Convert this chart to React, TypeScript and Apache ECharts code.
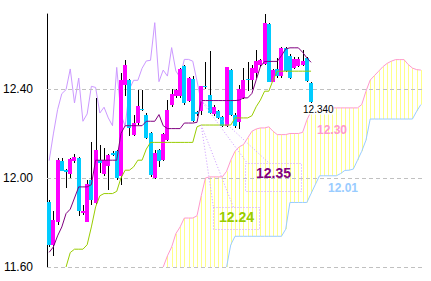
import React, { useEffect, useRef } from "react";
import * as echarts from "echarts";

// ---------- data ----------
const SLOTS = 89; // 63 sessions + 26 future slots for the cloud
const categories = Array.from({ length: SLOTS }, (_, i) => String(i + 1));
const yTicks = [11.6, 12.0, 12.4];
const CHIKOU_SHIFT = 26;

const candleOpen = [
  11.89, 11.70, 11.80, 12.075, 12.035, 12.02, 12.075, 12.09, 11.843, 11.80,
  11.99, 11.888, 12.08, 12.018, 12.052, 12.112, 12.12, 12.007, 12.42, 12.442,
  12.195, 12.247, 12.312, 12.285, 12.202, 12.00, 12.127, 12.08, 12.172, 12.33,
  12.367, 12.367, 12.505, 12.345, 12.445, 12.295, 12.30, 12.412, 12.375, 12.288,
  12.30, 12.275, 12.232, 12.487, 12.285, 12.25, 12.36, 12.447, 12.439, 12.473,
  12.51, 12.514, 12.69, 12.433, 12.488, 12.458, 12.586, 12.548, 12.496, 12.503,
  12.51, 12.541, 12.428,
];
const candleClose = [
  11.70, 11.81, 12.08, 12.03, 12.025, 12.087, 12.093, 11.85, 11.853, 11.975,
  11.90, 12.127, 12.067, 12.08, 12.105, 12.105, 12.00, 12.442, 12.509, 12.225,
  12.247, 12.325, 12.307, 12.18, 12.012, 12.112, 12.078, 12.198, 12.307, 12.379,
  12.397, 12.49, 12.337, 12.449, 12.255, 12.288, 12.412, 12.407, 12.292, 12.318,
  12.27, 12.235, 12.497, 12.285, 12.232, 12.40, 12.439, 12.439, 12.493, 12.526,
  12.529, 12.698, 12.433, 12.485, 12.458, 12.586, 12.481, 12.451, 12.533, 12.533,
  12.525, 12.436, 12.34,
];
const candleLow = [
  11.69, 11.648, 11.79, 12.03, 11.955, 12.00, 12.067, 11.83, 11.835, 11.80,
  11.88, 11.88, 12.022, 12.01, 11.948, 12.10, 11.99, 11.97, 12.367, 12.187,
  12.19, 12.24, 12.30, 12.175, 12.005, 11.995, 12.05, 12.075, 12.165, 12.32,
  12.36, 12.36, 12.33, 12.34, 12.25, 12.28, 12.285, 12.40, 12.288, 12.28,
  12.265, 12.228, 12.228, 12.28, 12.225, 12.22, 12.355, 12.39, 12.40, 12.45,
  12.50, 12.51, 12.43, 12.43, 12.45, 12.45, 12.478, 12.445, 12.49, 12.50,
  12.505, 12.43, 12.339,
];
const candleHigh = [
  11.90, 11.85, 12.09, 12.09, 12.04, 12.09, 12.108, 12.095, 11.88, 11.99,
  12.16, 12.36, 12.15, 12.135, 12.11, 12.12, 12.125, 12.472, 12.53, 12.445,
  12.285, 12.397, 12.397, 12.29, 12.205, 12.127, 12.13, 12.20, 12.352, 12.40,
  12.40, 12.495, 12.51, 12.455, 12.457, 12.30, 12.415, 12.52, 12.57, 12.33,
  12.305, 12.28, 12.50, 12.49, 12.29, 12.42, 12.494, 12.52, 12.51, 12.577,
  12.535, 12.735, 12.695, 12.49, 12.54, 12.59, 12.59, 12.555, 12.545, 12.545,
  12.577, 12.545, 12.43,
];

// conversion line (tenkan) and base line (kijun)
const tenkan = [
  11.666, 11.69, 11.74, 11.78, 11.84, 11.86, 11.91, 11.96, 11.96, 11.96,
  11.97, 12.08, 12.08, 12.08, 12.08, 12.08, 12.08, 12.20, 12.235, 12.235,
  12.235, 12.235, 12.235, 12.255, 12.255, 12.255, 12.285, 12.235, 12.222, 12.222,
  12.222, 12.222, 12.247, 12.247, 12.247, 12.25, 12.348, 12.348, 12.348, 12.348,
  12.348, 12.348, 12.348, 12.348, 12.348, 12.35, 12.36, 12.36, 12.38, 12.44,
  12.50, 12.524, 12.524, 12.524, 12.524, 12.55, 12.58, 12.585, 12.585, 12.585,
  12.565, 12.54, 12.52,
];
const kijun = [
  null, null, null, null, 11.60, 11.665, 11.68, 11.68, 11.68, 11.70,
  11.78, 11.87, 11.92, 11.93, 11.93, 11.93, 11.94, 12.00, 12.035, 12.035,
  12.05, 12.08, 12.08, 12.13, 12.16, 12.16, 12.16, 12.16, 12.16, 12.16,
  12.16, 12.16, 12.16, 12.16, 12.16, 12.23, 12.238, 12.238, 12.238, 12.238,
  12.238, 12.238, 12.238, 12.238, 12.27, 12.27, 12.27, 12.27, 12.28, 12.32,
  12.35, 12.39, 12.39, 12.44, 12.48, 12.48, 12.48, 12.48, 12.48, 12.48,
  12.48, 12.48, 12.48,
];
// leading spans (already shifted forward)
const senkouA = [
  null, null, null, null, null, null, null, null, null, null,
  null, null, null, null, null, null, null, null, null, null,
  null, null, null, null, null, null, null, 11.60, 11.65, 11.69,
  11.75, 11.78, 11.82, 11.82, 11.82, 11.83, 11.92, 12.00, 12.005, 12.005,
  12.005, 12.005, 12.03, 12.08, 12.12, 12.14, 12.15, 12.18, 12.21, 12.22,
  12.225, 12.225, 12.23, 12.21, 12.195, 12.195, 12.195, 12.20, 12.20, 12.20,
  12.205, 12.26, 12.30, 12.31, 12.315, 12.315, 12.315, 12.315, 12.315, 12.315,
  12.315, 12.315, 12.315, 12.315, 12.33, 12.39, 12.44, 12.46, 12.48, 12.50,
  12.515, 12.525, 12.532, 12.532, 12.532, 12.51, 12.494, 12.487, 12.485,
];
const senkouB = [
  null, null, null, null, null, null, null, null, null, null,
  null, null, null, null, null, null, null, null, null, null,
  null, null, null, null, null, null, null, null, null, null,
  null, null, null, null, null, null, null, null, null, null,
  null, null, 11.60, 11.70, 11.738, 11.738, 11.738, 11.738, 11.738, 11.738,
  11.738, 11.738, 11.738, 11.738, 11.738, 11.738, 11.77, 11.89, 11.89, 11.89,
  11.89, 11.89, 11.93, 11.97, 12.01, 12.01, 12.01, 12.01, 12.01, 12.02,
  12.034, 12.035, 12.04, 12.08, 12.12, 12.17, 12.265, 12.265, 12.265, 12.265,
  12.265, 12.265, 12.265, 12.265, 12.265, 12.265, 12.265, 12.30, 12.33,
];

// ---------- helpers ----------
const pad = (arr: (number | null)[]) =>
  Array.from({ length: SLOTS }, (_, i) => (i < arr.length ? arr[i] : null));
const chikou = Array.from({ length: SLOTS }, (_, i) =>
  i + CHIKOU_SHIFT < candleClose.length ? candleClose[i + CHIKOU_SHIFT] : null
);
const Y_MIN = 11.6;
const Y_MAX = 12.737;
const FONT = "'Liberation Sans Narrow', 'Liberation Sans', sans-serif";

export default function App() {
  const ref = useRef<HTMLDivElement>(null);
  useEffect(() => {
    if (!ref.current) return;
    const chart = echarts.init(ref.current, undefined, { renderer: "svg" });

    const candleData = candleOpen.map((o, i) => [i, o, candleClose[i], candleLow[i], candleHigh[i]]);
    const cloudData: any[] = [];
    senkouA.forEach((a, i) => {
      if (a == null) return;
      const b = senkouB[i] == null ? Y_MIN : senkouB[i];
      cloudData.push([i, a, b]);
    });

    chart.setOption({
      animation: false,
      grid: { left: 47, right: 8, top: 14, bottom: 14 },
      xAxis: {
        type: "category",
        data: categories,
        boundaryGap: true,
        axisLine: { show: false },
        axisTick: { show: false },
        axisLabel: { show: false },
        splitLine: { show: false },
      },
      yAxis: {
        type: "value",
        min: Y_MIN,
        max: Y_MAX,
        interval: 0.4,
        axisLine: { show: true, lineStyle: { color: "#000", width: 1 } },
        axisTick: { show: true, inside: true, length: 3, lineStyle: { color: "#000" }, customValues: yTicks },
        axisLabel: {
          customValues: yTicks,
          formatter: (v: number) => (yTicks.some((t) => Math.abs(t - v) < 1e-6) ? v.toFixed(2) : ""),
          color: "#000",
          fontSize: 12,
          fontFamily: FONT,
          margin: 14,
        },
        splitLine: { show: false },
      },
      series: [
        {
          type: "custom",
          name: "cloud",
          z: 1,
          silent: true,
          data: cloudData,
          encode: { x: 0, y: [1, 2] },
          renderItem: (params: any, api: any) => {
            const i = api.value(0);
            const a = api.value(1);
            const b = api.value(2);
            const hi = Math.max(a, b);
            const lo = Math.max(Math.min(a, b), Y_MIN);
            if (hi <= Y_MIN) return null;
            const p1 = api.coord([i, hi]);
            const p2 = api.coord([i, lo]);
            const x = Math.round(p1[0]) + 0.5;
            return {
              type: "line",
              shape: { x1: x, y1: p1[1], x2: x, y2: p2[1] },
              style: { stroke: "#FFFF88", lineWidth: 1 },
            };
          },
        },
        {
          type: "line",
          name: "grid",
          z: 2,
          data: [],
          silent: true,
          markLine: {
            silent: true,
            symbol: ["none", "none"],
            label: { show: false },
            lineStyle: { color: "#C0C0C0", type: [4, 3], width: 1 },
            data: yTicks.map((v) => ({ yAxis: v })),
          },
        },
        {
          type: "line",
          name: "senkouA",
          z: 3,
          data: senkouA,
          showSymbol: false,
          symbol: "none",
          lineStyle: { color: "#FF99CC", width: 1 },
        },
        {
          type: "line",
          name: "senkouB",
          z: 3,
          data: senkouB,
          showSymbol: false,
          symbol: "none",
          lineStyle: { color: "#99CCFF", width: 1 },
        },
        {
          type: "line",
          name: "chikou",
          z: 4,
          data: chikou,
          showSymbol: false,
          symbol: "none",
          lineStyle: { color: "#CC99FF", width: 1 },
        },
        {
          type: "custom",
          name: "candles",
          z: 5,
          data: candleData,
          encode: { x: 0, y: [1, 2, 3, 4] },
          renderItem: (params: any, api: any) => {
            const i = api.value(0);
            const o = api.value(1);
            const c = api.value(2);
            const l = api.value(3);
            const h = api.value(4);
            const po = api.coord([i, o]);
            const pc = api.coord([i, c]);
            const pl = api.coord([i, l]);
            const ph = api.coord([i, h]);
            const cx = Math.round(po[0]);
            const top = Math.round(Math.min(po[1], pc[1]));
            const bot = Math.round(Math.max(po[1], pc[1]));
            return {
              type: "group",
              children: [
                {
                  type: "line",
                  shape: { x1: cx + 0.5, y1: Math.round(ph[1]), x2: cx + 0.5, y2: Math.round(pl[1]) },
                  style: { stroke: "#000", lineWidth: 1 },
                },
                {
                  type: "rect",
                  shape: { x: cx - 2, y: top, width: 4, height: Math.max(1, bot - top) },
                  style: { fill: c >= o ? "#FF00FF" : "#00CCFF" },
                },
              ],
            };
          },
        },
        {
          type: "line",
          name: "kijun",
          z: 6,
          data: pad(kijun),
          showSymbol: false,
          symbol: "none",
          lineStyle: { color: "#99CC00", width: 1 },
        },
        {
          type: "line",
          name: "tenkan",
          z: 6,
          data: pad(tenkan),
          showSymbol: false,
          symbol: "none",
          lineStyle: { color: "#800080", width: 1 },
        },
      ],
    });

    // annotations
    const toPx = (i: number, v: number) =>
      chart.convertToPixel({ xAxisIndex: 0, yAxisIndex: 0 }, [i, v]) as number[];
    const last = candleClose.length - 1;
    const refSlot = last - CHIKOU_SHIFT;
    const pT = toPx(refSlot, tenkan[refSlot] as number);
    const pK = toPx(refSlot, kijun[refSlot] as number);
    const pLow = toPx(last, candleLow[last]);
    const boxT = { x: 245.5, y: 163.5, w: 56, h: 28 };
    const boxK = { x: 213.5, y: 207.5, w: 46, h: 22 };
    const dotted = { stroke: "#CC99FF", lineWidth: 1, lineDash: [1, 2], fill: "none" };

    chart.setOption({
      graphic: [
        { type: "line", z: 20, shape: { x1: pT[0], y1: pT[1], x2: boxT.x + 2, y2: boxT.y }, style: dotted, silent: true },
        { type: "line", z: 20, shape: { x1: pT[0], y1: pT[1], x2: boxT.x + 24, y2: boxT.y }, style: dotted, silent: true },
        { type: "line", z: 20, shape: { x1: pK[0], y1: pK[1], x2: boxK.x, y2: boxK.y }, style: dotted, silent: true },
        { type: "line", z: 20, shape: { x1: pK[0], y1: pK[1], x2: boxK.x + 20, y2: boxK.y }, style: dotted, silent: true },
        { type: "rect", z: 20, shape: { x: boxT.x, y: boxT.y, width: boxT.w, height: boxT.h }, style: dotted, silent: true },
        { type: "rect", z: 20, shape: { x: boxK.x, y: boxK.y, width: boxK.w, height: boxK.h }, style: dotted, silent: true },
        {
          type: "text", z: 21, x: boxT.x + boxT.w / 2, y: boxT.y + boxT.h / 2 - 5,
          style: { text: (tenkan[refSlot] as number).toFixed(2), fill: "#800080", font: "bold 14px 'Liberation Sans', sans-serif", textAlign: "center", textVerticalAlign: "middle" },
        },
        {
          type: "text", z: 21, x: boxK.x + boxK.w / 2, y: boxK.y + boxK.h / 2 - 2,
          style: { text: (kijun[refSlot] as number).toFixed(2), fill: "#99CC00", font: "bold 14px 'Liberation Sans', sans-serif", textAlign: "center", textVerticalAlign: "middle" },
        },
        {
          type: "text", z: 21, x: pLow[0] - 8, y: pLow[1] + 7,
          style: { text: candleClose[last].toFixed(3), fill: "#000", font: "10px 'Liberation Sans', sans-serif", textAlign: "left", textVerticalAlign: "middle", backgroundColor: "#fff" },
        },
        {
          type: "text", z: 21, x: 317, y: 130,
          style: { text: (senkouA[last] as number).toFixed(2), fill: "#FF99CC", font: "bold 12px 'Liberation Sans', sans-serif", textAlign: "left", textVerticalAlign: "middle" },
        },
        {
          type: "text", z: 21, x: 328, y: 188,
          style: { text: (senkouB[last + 2] as number).toFixed(2), fill: "#99CCFF", font: "bold 12px 'Liberation Sans', sans-serif", textAlign: "left", textVerticalAlign: "middle" },
        },
      ],
    });

    return () => chart.dispose();
  }, []);

  return <div ref={ref} style={{ width: 431, height: 281, position: "absolute", left: 0, top: 0, background: "#fff" }} />;
}
